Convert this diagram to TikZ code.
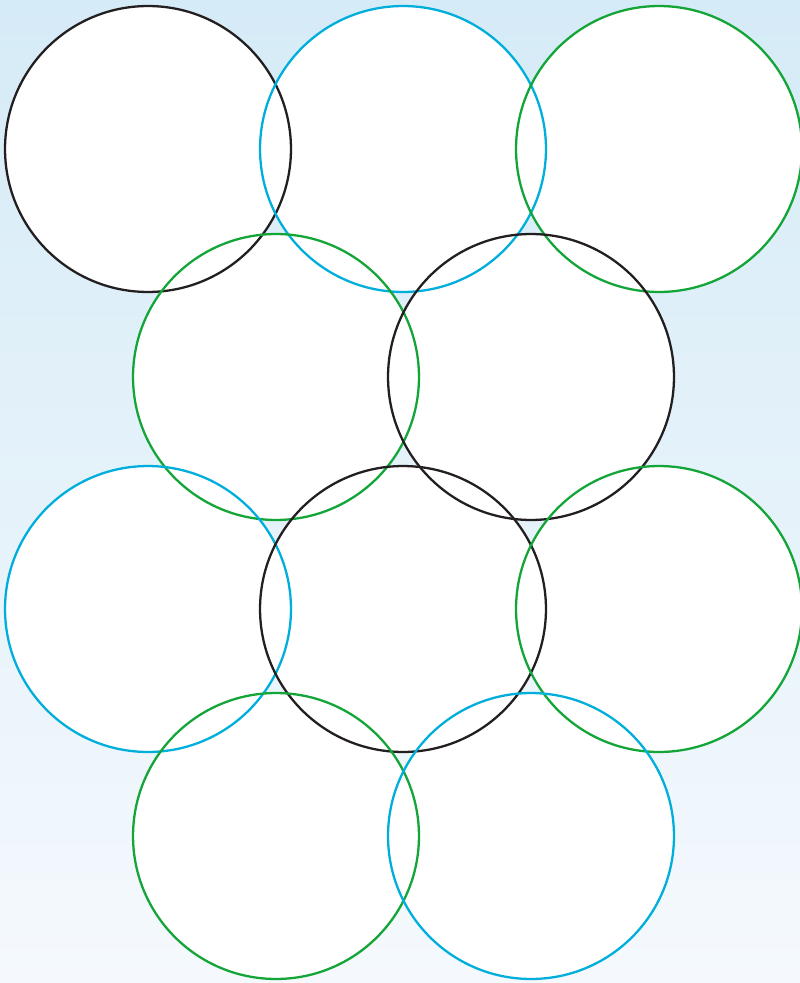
\documentclass[tikz,border=0pt]{standalone}
\usepackage{tikz}
\definecolor{ringblack}{HTML}{231F20}
\definecolor{ringcyan}{HTML}{00AEDB}
\definecolor{ringgreen}{HTML}{13A538}
\definecolor{skytop}{HTML}{D5EBF7}
\definecolor{skybot}{HTML}{F5F9FD}

\begin{document}
\begin{tikzpicture}[
  x=0.02cm, y=-0.02cm,
  disc/.style={circle, fill=white, minimum size=5.72cm, inner sep=0pt},
  ring/.style={circle, draw, line width=1.3pt, minimum size=5.72cm, inner sep=0pt},
  blk/.style={ring, draw=ringblack},
  cyn/.style={ring, draw=ringcyan},
  grn/.style={ring, draw=ringgreen}
]
\shade[top color=skytop, bottom color=skybot] (0,0) rectangle (800,983);
\useasboundingbox (0,0) rectangle (800,983);
% white fill first
\foreach \p in {(148,149),(403,149),(659,149),(276,377),(531,377),(148,609),(403,609),(659,609),(276,836),(531,836)}
  \node[disc] at \p {};
% outlines
\node[blk] (r1a) at (148,149) {};
\node[cyn] (r1b) at (403,149) {};
\node[grn] (r1c) at (659,149) {};
\node[grn] (r2a) at (276,377) {};
\node[blk] (r2b) at (531,377) {};
\node[cyn] (r3a) at (148,609) {};
\node[blk] (r3b) at (403,609) {};
\node[grn] (r3c) at (659,609) {};
\node[grn] (r4a) at (276,836) {};
\node[cyn] (r4b) at (531,836) {};
\end{tikzpicture}
\end{document}
